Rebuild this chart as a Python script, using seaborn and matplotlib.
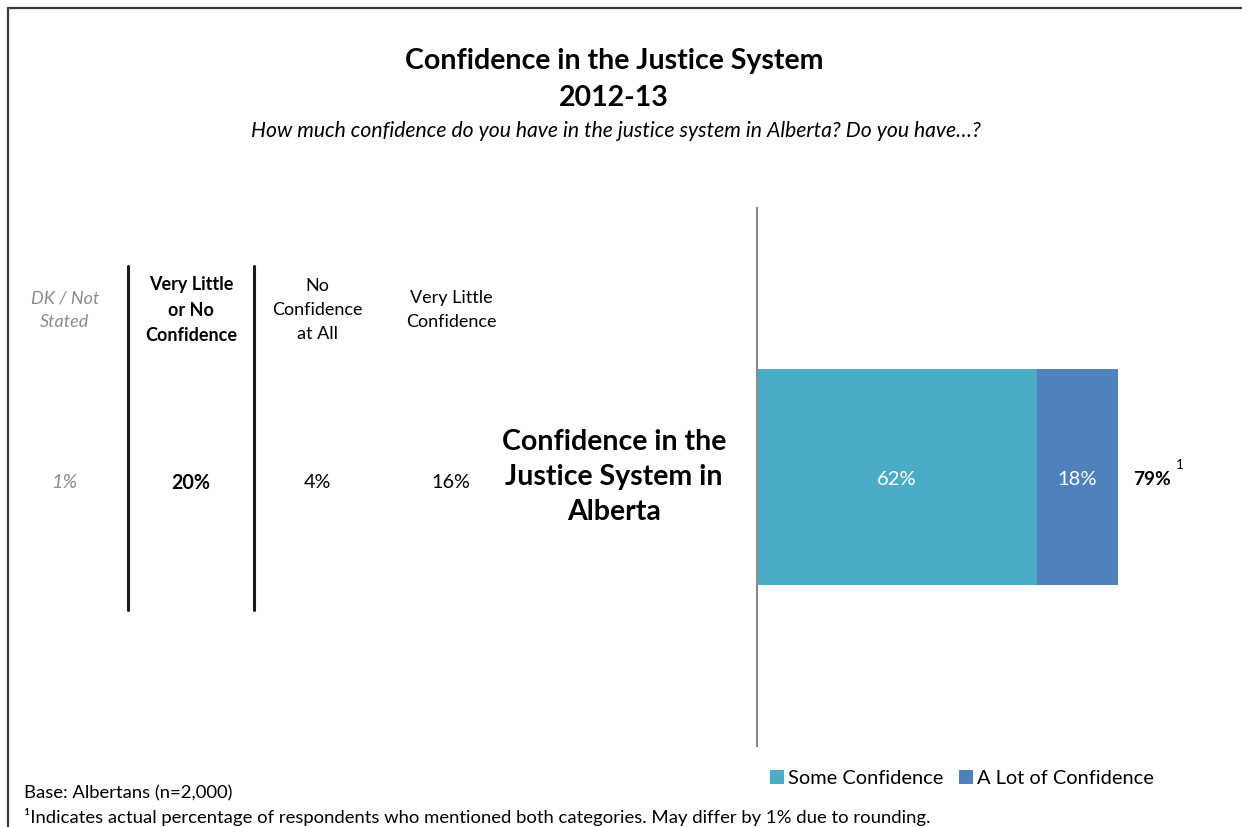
import matplotlib
matplotlib.use("Agg")
import matplotlib.pyplot as plt
from matplotlib.lines import Line2D
from matplotlib.patches import Patch
import seaborn as sns
import pandas as pd

# ---- data ----
region = ["Confidence in the Justice System in Alberta"]
some_confidence = [62]
lot_of_confidence = [18]
net_confidence = 79  # actual share mentioning either category
table_headers = ["DK / Not\nStated", "Very Little\nor No\nConfidence", "No\nConfidence\nat All", "Very Little\nConfidence"]
table_values = ["1%", "20%", "4%", "16%"]
series_names = ["Some Confidence", "A Lot of Confidence"]
colors = ["#4BACC6", "#4F81BD"]

sns.set_theme(style="white")
plt.rcParams["font.family"] = ["Lato", "DejaVu Sans"]
plt.rcParams["text.color"] = "black"

W, H = 1242, 827
fig = plt.figure(figsize=(W / 100, H / 100), dpi=100)


def fx(px):
    return px / W


def fy(py):
    return 1 - py / H


# frame lines along top and left edges
fig.add_artist(Line2D([fx(8), 1.0], [fy(8), fy(8)], color="#3a3a3a", lw=1.6))
fig.add_artist(Line2D([fx(8), fx(8)], [fy(8), 0.0], color="#3a3a3a", lw=1.6))

# titles
fig.text(fx(614), fy(61), "Confidence in the Justice System", ha="center", va="center",
         fontsize=20.5, fontweight="bold")
fig.text(fx(614), fy(98), "2012-13", ha="center", va="center", fontsize=20.5, fontweight="bold")
fig.text(fx(616), fy(131), "How much confidence do you have in the justice system in Alberta? Do you have\u2026?",
         ha="center", va="center", fontsize=15.2, style="italic")

# side table of low-confidence results
col_x = [65, 191, 317, 451]
for i, (hdr, val, cx) in enumerate(zip(table_headers, table_values, col_x)):
    if i == 0:
        kw = dict(color="#8c8c8c", style="italic")
    elif i == 1:
        kw = dict(color="black", fontweight="bold")
    else:
        kw = dict(color="black")
    fig.text(fx(cx), fy(310), hdr, ha="center", va="center", fontsize=13, linespacing=1.6, **kw)
    fig.text(fx(cx), fy(483), val, ha="center", va="center", fontsize=14.2, **kw)
for lx in (128, 254):
    fig.add_artist(Line2D([fx(lx), fx(lx)], [fy(266), fy(610)], color="#1a1a1a", lw=2.2))

# stacked horizontal bar
ax = fig.add_axes([fx(757), fy(746), fx(1231) - fx(757), (746 - 208) / H])
df = pd.DataFrame({"region": region, "some": some_confidence, "lot": lot_of_confidence})
df["total"] = df["some"] + df["lot"]
sns.barplot(data=df, x="total", y="region", color=colors[1], width=0.403,
            saturation=1, ax=ax, orient="h", linewidth=0)
sns.barplot(data=df, x="some", y="region", color=colors[0], width=0.403,
            saturation=1, ax=ax, orient="h", linewidth=0)
ax.set_xlim(0, 105)
ax.set_ylim(0.5, -0.5)
ax.set_xlabel("")
ax.set_ylabel("")
ax.set_xticks([])
ax.set_yticks([])
for s in ("top", "right", "bottom"):
    ax.spines[s].set_visible(False)
ax.spines["left"].set_color("#8a8a8a")
ax.spines["left"].set_linewidth(1.5)

for i, row in df.iterrows():
    ax.text(row["some"] / 2, i + 0.005, f"{row['some']}%", ha="center", va="center",
            color="white", fontsize=14.5)
    ax.text(row["some"] + row["lot"] / 2, i + 0.005, f"{row['lot']}%", ha="center", va="center",
            color="white", fontsize=14.5)
    ax.text(row["total"] + 3.4, i + 0.005, f"{net_confidence}%", ha="left", va="center",
            fontsize=13.8, fontweight="bold", color="black")
    ax.text(row["total"] + 12.7, i - 0.022, "1", ha="left", va="center", fontsize=9.5, color="black")

# category label to the left of the bar
fig.text(fx(614), fy(477), "Confidence in the\nJustice System in\nAlberta", ha="center", va="center",
         fontsize=20.5, fontweight="bold", linespacing=1.43)

# legend
handles = [Patch(facecolor=c, edgecolor="none") for c in colors]
fig.legend(handles, series_names, loc="center", bbox_to_anchor=(fx(962), fy(778)), ncol=2,
           frameon=False, fontsize=14.4, handlelength=0.7, handleheight=0.7,
           handletextpad=0.2, columnspacing=0.8, labelcolor="black")

# notes
fig.text(fx(24), fy(793), "Base: Albertans (n=2,000)", ha="left", va="center", fontsize=13.3)
fig.text(fx(24), fy(817),
         "\u00b9Indicates actual percentage of respondents who mentioned both categories. May differ by 1% due to rounding.",
         ha="left", va="center", fontsize=13.3)

fig.savefig("out.png", dpi=100)
